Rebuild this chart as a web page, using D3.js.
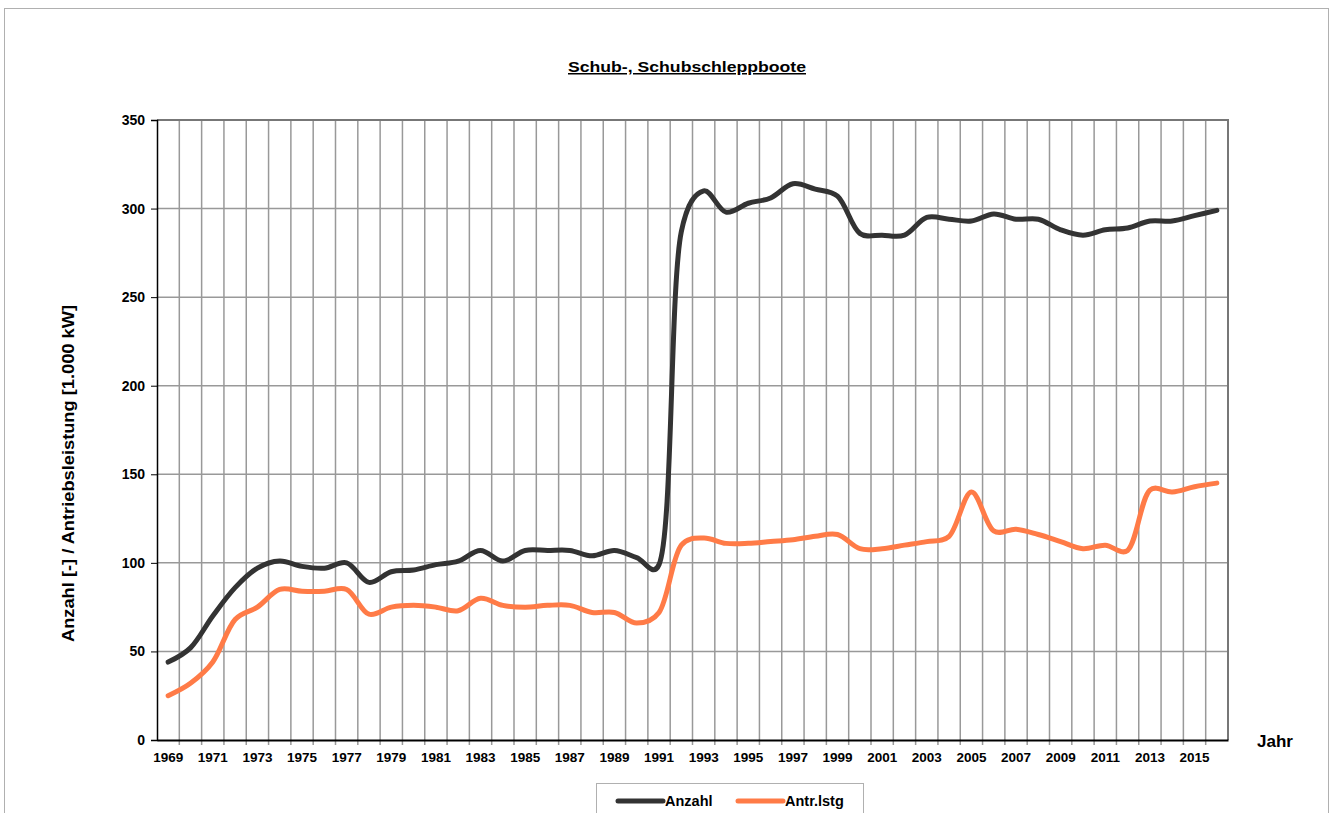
<!DOCTYPE html>
<html>
<head>
<meta charset="utf-8">
<script src="https://cdn.jsdelivr.net/npm/d3@7"></script>
<style>
  body { margin: 0; background: #fff; }
  svg { font-family: "Liberation Sans", Arial, sans-serif; font-weight: bold; }
</style>
</head>
<body>
<svg></svg>
<script>
var years = d3.range(1969, 2017);
var anzahl = [44, 52, 70, 86, 97, 101, 98, 97, 100, 89, 95, 96, 99, 101, 107, 101, 107, 107, 107, 104, 107, 103, 99,
  287, 310, 298, 303, 306, 314, 311, 307, 286, 285, 285, 295, 294, 293, 297, 294, 294, 288, 285, 288, 289, 293, 293, 296, 299];
var antrLstg = [25, 32, 44, 68, 75, 85, 84, 84, 85, 71, 75, 76, 75, 73, 80, 76, 75, 76, 76, 72, 72, 66, 72,
  110, 114, 111, 111, 112, 113, 115, 116, 108, 108, 110, 112, 115, 140, 118, 119, 116, 112, 108, 110, 107, 141, 140, 143, 145];
var yTicks = [0, 50, 100, 150, 200, 250, 300, 350];
var seriesNames = ['Anzahl', 'Antr.lstg'];
var seriesColors = ['#333333', '#ff7b47'];

var width = 1332;
var height = 813;
var svg = d3.select('svg')
  .attr('width', width)
  .attr('height', height);

// outer chart frame
svg.append('rect')
  .attr('x', 4.5).attr('y', 8.5)
  .attr('width', 1324).attr('height', 820)
  .attr('fill', 'none')
  .attr('stroke', '#b0b0b0');

var plotLeft = 157, plotRight = 1228, plotTop = 120, plotBottom = 740;

var xScale = d3.scaleBand()
  .domain(years)
  .range([plotLeft, plotRight])
  .padding(0);

var yScale = d3.scaleLinear()
  .domain([0, 350])
  .range([plotBottom, plotTop]);

var xMid = function(d) { return xScale(d) + xScale.bandwidth() / 2; };

// gridlines
var bounds = years.map(function(d) { return xScale(d); }).concat([plotRight]);
svg.append('g')
  .selectAll('line')
  .data(bounds.slice(1, -1))
  .enter().append('line')
    .attr('x1', d => d).attr('x2', d => d)
    .attr('y1', plotTop).attr('y2', plotBottom + 5)
    .attr('stroke', '#999')
    .attr('stroke-width', 1.5);

svg.append('g')
  .selectAll('line')
  .data(yTicks.slice(1, -1))
  .enter().append('line')
    .attr('x1', plotLeft).attr('x2', plotRight)
    .attr('y1', d => yScale(d)).attr('y2', d => yScale(d))
    .attr('stroke', '#999')
    .attr('stroke-width', 1.5);

// top and right border of plot area
svg.append('path')
  .attr('d', `M${plotLeft},${plotTop}H${plotRight}V${plotBottom}`)
  .attr('fill', 'none')
  .attr('stroke', '#777')
  .attr('stroke-width', 2);

// y axis
var yAxis = svg.append('g')
  .attr('transform', `translate(${plotLeft},0)`)
  .call(d3.axisLeft(yScale).tickValues(yTicks).tickSize(6).tickPadding(6));
yAxis.select('.domain').attr('stroke', '#000').attr('stroke-width', 1.5);
yAxis.selectAll('.tick line').attr('stroke', '#000');
yAxis.selectAll('text').attr('font-size', 14).attr('font-weight', 'bold')
  .attr('font-family', '"Liberation Sans", Arial, sans-serif').attr('fill', '#000');

// x axis
var xAxis = svg.append('g')
  .attr('transform', `translate(0,${plotBottom})`)
  .call(d3.axisBottom(xScale)
    .tickValues(years.filter(d => (d - 1969) % 2 === 0))
    .tickSize(0).tickPadding(12));
xAxis.select('.domain').attr('stroke', '#000').attr('stroke-width', 2);
xAxis.selectAll('text').attr('font-size', 13.5).attr('font-weight', 'bold')
  .attr('font-family', '"Liberation Sans", Arial, sans-serif').attr('fill', '#000');

// lines, smoothed like the spreadsheet original
var line = d3.line()
  .x((d, i) => xMid(years[i]))
  .y(d => yScale(d))
  .curve(d3.curveCatmullRom.alpha(0.3));

[anzahl, antrLstg].forEach(function(series, k) {
  svg.append('path')
    .datum(series)
    .attr('d', line)
    .attr('fill', 'none')
    .attr('stroke', seriesColors[k])
    .attr('stroke-width', 5)
    .attr('stroke-linecap', 'round')
    .attr('stroke-linejoin', 'round');
});

// titles
svg.append('text')
  .attr('x', 568).attr('y', 72)
  .attr('font-size', 15)
  .attr('textLength', 238)
  .attr('lengthAdjust', 'spacingAndGlyphs')
  .attr('text-decoration', 'underline')
  .text('Schub-, Schubschleppboote');

svg.append('text')
  .attr('transform', 'translate(74,642) rotate(-90)')
  .attr('font-size', 16)
  .attr('textLength', 337)
  .attr('lengthAdjust', 'spacingAndGlyphs')
  .text('Anzahl [-] / Antriebsleistung [1.000 kW]');

svg.append('text')
  .attr('x', 1257).attr('y', 747)
  .attr('font-size', 17)
  .text('Jahr');

// legend
var legend = svg.append('g');
legend.append('rect')
  .attr('x', 596.5).attr('y', 783.5)
  .attr('width', 267).attr('height', 40)
  .attr('fill', '#fff')
  .attr('stroke', '#b0b0b0');

var legendX = [618, 738];
seriesNames.forEach(function(name, k) {
  legend.append('line')
    .attr('x1', legendX[k]).attr('x2', legendX[k] + 45)
    .attr('y1', 801).attr('y2', 801)
    .attr('stroke', seriesColors[k])
    .attr('stroke-width', 5)
    .attr('stroke-linecap', 'round');
  legend.append('text')
    .attr('x', legendX[k] + 47).attr('y', 806)
    .attr('font-size', 14.5)
    .text(name);
});
</script>
</body>
</html>
